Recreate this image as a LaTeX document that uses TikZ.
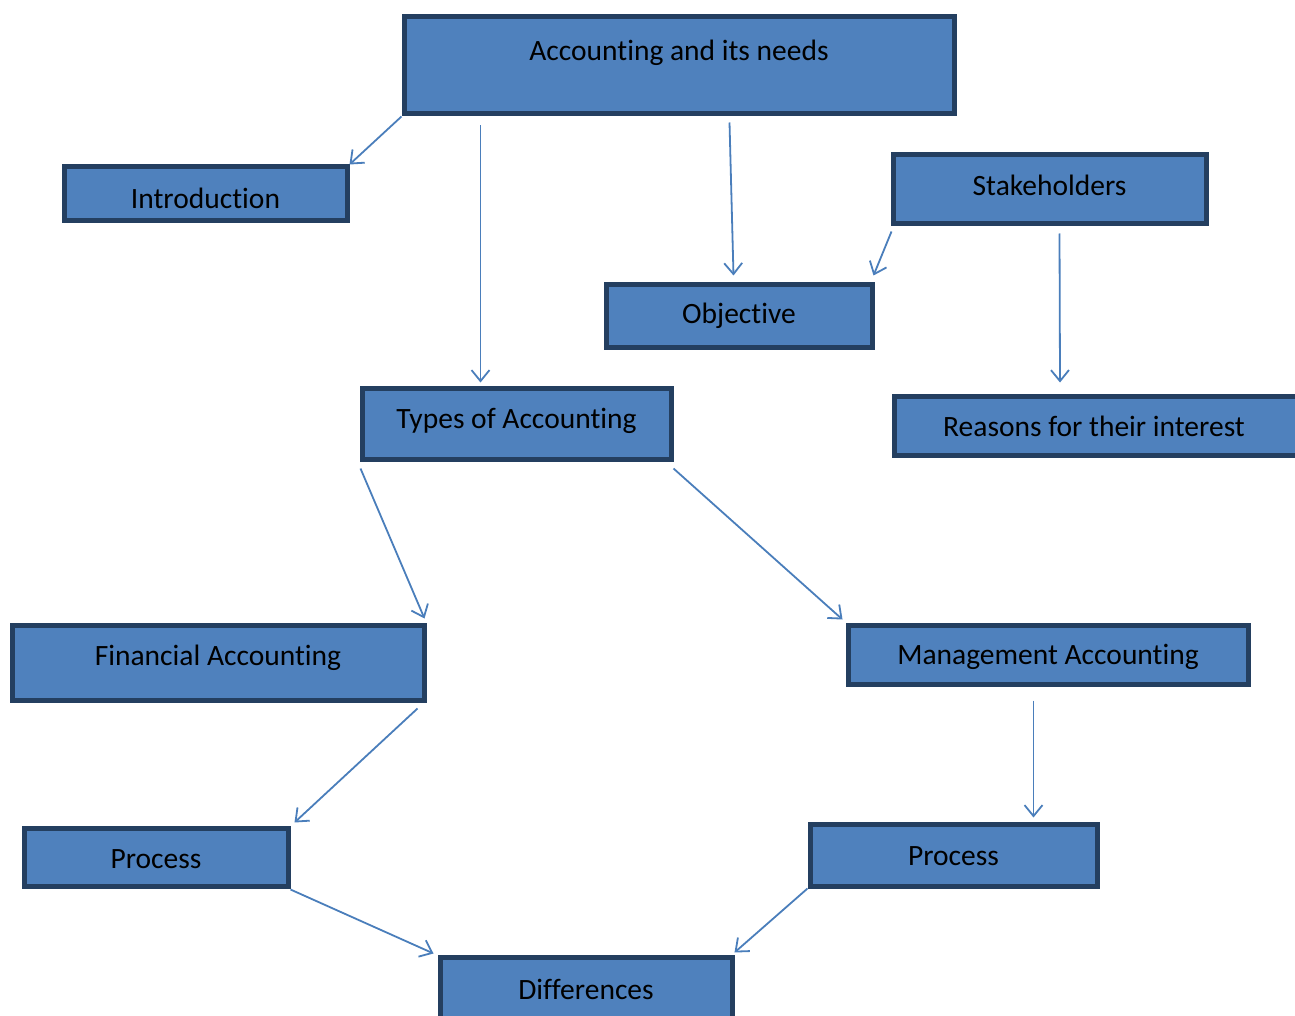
\documentclass[tikz,border=0pt]{standalone}
\usepackage{fontspec}
\setmainfont{Carlito}[Ligatures={NoCommon,NoContextual}]
\usetikzlibrary{arrows.meta}

\definecolor{boxfill}{HTML}{4F81BD}
\definecolor{boxline}{HTML}{243F60}
\definecolor{arrline}{HTML}{4A7EBB}

\tikzset{
  box/.style={shape=rectangle, draw=boxline, fill=boxfill, line width=5pt, inner sep=0pt},
  txt/.style={font=\fontsize{29.5}{35}\selectfont, text=black},
  arr/.style={draw=arrline, line width=1.8pt, -{Straight Barb[length=11pt,width=18pt]}}
}

\begin{document}
\begin{tikzpicture}[x=1pt,y=-1pt]
\useasboundingbox (0,0) rectangle (1295,1016);
\begin{scope}
\clip (0,0) rectangle (1295,1016);
% boxes
\node (acc) at (679,65.5) [box, minimum width=550pt, minimum height=97pt, label={[txt,yshift=13pt]center:Accounting and its needs}] {};
\node (intro) at (205.5,194) [box, minimum width=283pt, minimum height=54pt, label={[txt,yshift=-4pt]center:Introduction}] {};
\node (stake) at (1049.5,189.5) [box, minimum width=313pt, minimum height=69pt, label={[txt,yshift=4pt]center:Stakeholders}] {};
\node (obj) at (739,315.5) [box, minimum width=266pt, minimum height=63pt, label={[txt,yshift=-0.5pt]center:Objective}] {};
\node (types) at (516.5,423.5) [box, minimum width=309pt, minimum height=71pt, label={[txt,yshift=3pt]center:Types of Accounting}] {};
\node (reasons) at (1105,425.5) [box, minimum width=421pt, minimum height=59pt, label={[txt,xshift=-11pt,yshift=-1pt]center:Reasons for their interest}] {};
\node (fin) at (218,662.5) [box, minimum width=412pt, minimum height=75pt, label={[txt,yshift=5pt]center:Financial Accounting}] {};
\node (mgmt) at (1048,654.5) [box, minimum width=400pt, minimum height=59pt, label={[txt,yshift=-2pt]center:Management Accounting}] {};
\node (procL) at (156,857) [box, minimum width=264pt, minimum height=58pt, label={[txt,yshift=-2pt]center:Process}] {};
\node (procR) at (953.5,855) [box, minimum width=287pt, minimum height=62pt, label={[txt,yshift=-1pt]center:Process}] {};
\node (diff) at (586,992.5) [box, minimum width=292pt, minimum height=71pt, label={[txt,yshift=3.5pt]center:Differences}] {};
\end{scope}
% arrows
\draw[arr] (acc.south west) -- (intro.north east);
\draw[arr] ([shift={(79,9)}]acc.south west) -- ([shift={(121,-3)}]types.north west);
\draw[arr] ([shift={(328,6)}]acc.south west) -- ([shift={(130,-6)}]obj.north west);
\draw[arr] ([shift={(1,5)}]stake.south west) -- ([shift={(-1,-6)}]obj.north east);
\draw[arr] ([shift={(169,7)}]stake.south west) -- ([shift={(168,-11)}]reasons.north west);
\draw[arr] ([shift={(1,7)}]types.south west) -- ([shift={(-2,-4)}]fin.north east);
\draw[arr] ([shift={(0,7)}]types.south east) -- ([shift={(-3,-3)}]mgmt.north west);
\draw[arr] ([shift={(-9,6)}]fin.south east) -- ([shift={(4,-3)}]procL.north east);
\draw[arr] ([shift={(188,14)}]mgmt.south west) -- ([shift={(226,-4)}]procR.north west);
\draw[arr] ([shift={(0,1)}]procL.south east) -- ([shift={(-4,-1)}]diff.north west);
\draw[arr] (procR.south west) -- ([shift={(0,-2)}]diff.north east);
\end{tikzpicture}
\end{document}
